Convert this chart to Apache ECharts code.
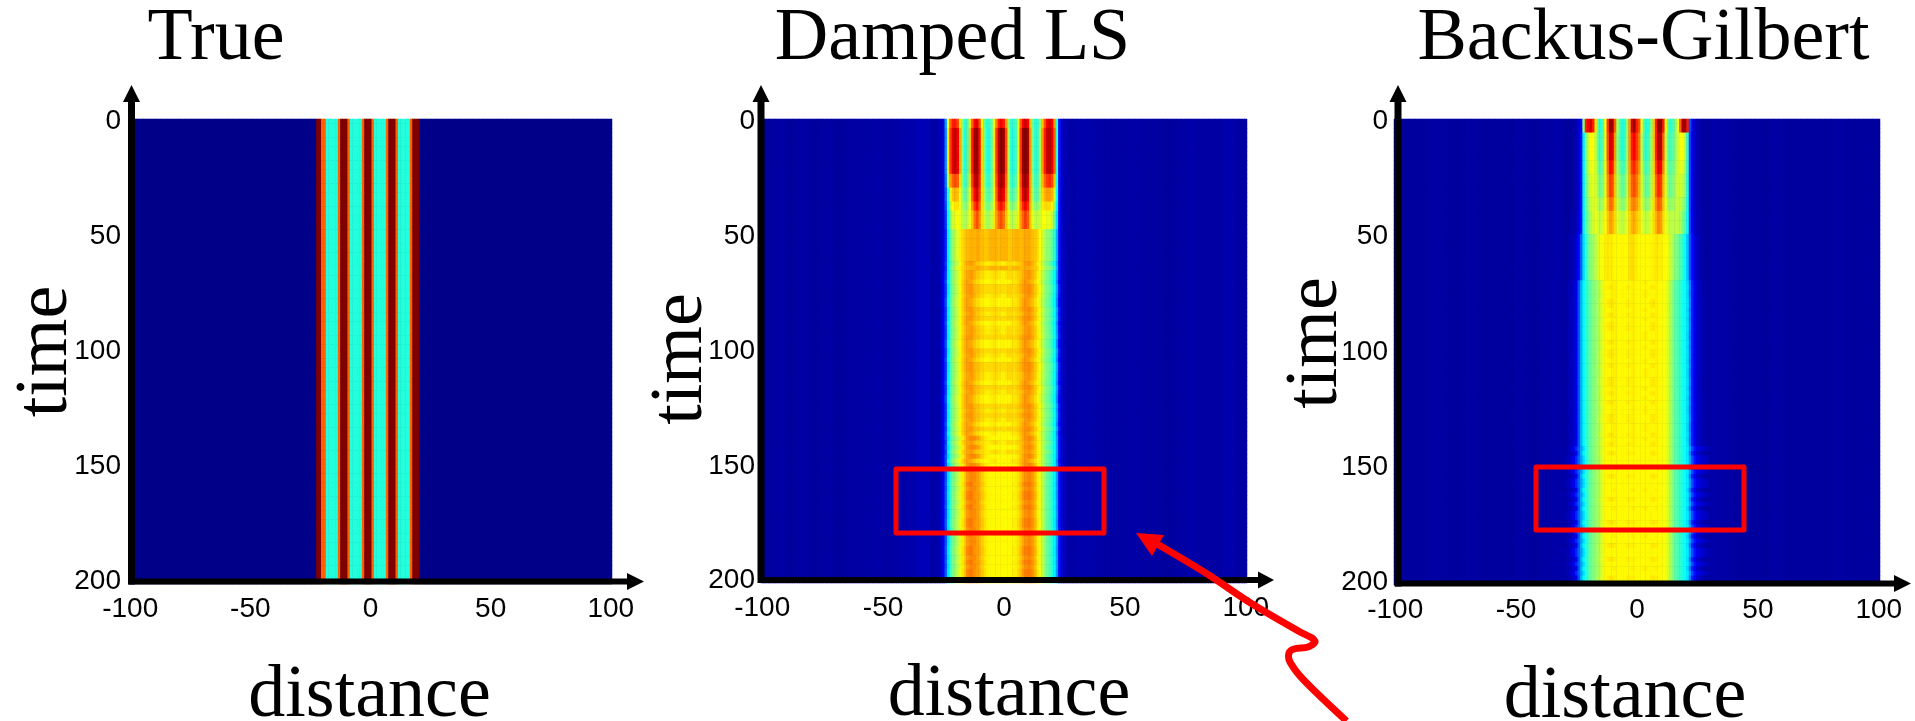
<!DOCTYPE html>
<html>
<head>
<meta charset="utf-8">
<style>html,body{margin:0;padding:0;background:#fff}#c{width:1915px;height:721px}</style>
<script src="https://cdn.jsdelivr.net/npm/echarts@6/dist/echarts.min.js"></script>
</head>
<body>
<div id="c"></div>
<script>
// ---------- tick labels and titles ----------
const panelTitles = ['True', 'Damped LS', 'Backus-Gilbert'];
const xTickLabels = [-100, -50, 0, 50, 100];
const yTickLabels = [0, 50, 100, 150, 200];
const xName = 'distance';
const yName = 'time';

// ---------- values: each profile covers distance -30..30 ----------
const trueProfile = [
 .01,.01,.01,.01,.01,.01,.01,.01,1,1,
 .78,.78,.41,.41,.41,.41,.41,.78,1,1,
 1,.78,.41,.41,.41,.41,.41,.78,1,1,
 1,.78,.41,.41,.41,.41,.41,.78,1,1,
 1,.78,.41,.41,.41,.41,.41,.78,1,1,
 1,.01,.01,.01,.01,.01,.01,.01,.01,.01,
 .01];

const dampedA = [
 .04,.04,.04,.05,.05,.09,.28,.62,.78,.85,
 .85,.8,.65,.5,.42,.45,.65,.78,.88,.9,
 .8,.62,.48,.42,.42,.48,.62,.75,.85,.88,
 .85,.72,.52,.42,.42,.45,.6,.78,.88,.92,
 .88,.68,.48,.42,.42,.52,.68,.8,.88,.92,
 .88,.72,.42,.14,.07,.05,.05,.04,.04,.04,
 .04];
const dampedB = [
 .04,.04,.04,.05,.05,.09,.26,.65,.82,.9,
 .93,.88,.7,.5,.41,.45,.68,.85,.97,.98,
 .86,.65,.5,.42,.4,.48,.65,.82,.94,1,
 .96,.8,.55,.42,.4,.45,.6,.82,.97,1,
 .96,.72,.5,.42,.42,.55,.72,.85,.93,.95,
 .9,.78,.42,.14,.07,.05,.05,.04,.04,.04,
 .04];
const dampedBC = [
 .04,.04,.04,.05,.05,.09,.24,.55,.72,.78,
 .8,.78,.65,.5,.43,.47,.66,.82,.93,.95,
 .84,.65,.52,.44,.42,.49,.65,.8,.92,.97,
 .92,.77,.55,.44,.42,.47,.61,.8,.94,.98,
 .92,.71,.52,.44,.44,.55,.69,.78,.82,.84,
 .8,.68,.4,.14,.07,.05,.05,.04,.04,.04,
 .04];
const dampedC = [
 .04,.04,.04,.05,.05,.09,.22,.42,.6,.68,
 .7,.68,.6,.52,.46,.5,.64,.78,.88,.92,
 .82,.65,.54,.47,.45,.5,.64,.78,.9,.93,
 .88,.74,.56,.46,.45,.5,.62,.78,.9,.95,
 .88,.7,.54,.46,.46,.55,.66,.7,.72,.72,
 .7,.58,.38,.14,.07,.05,.05,.04,.04,.04,
 .04];
const dampedCD = [
 .04,.04,.04,.05,.05,.09,.2,.4,.55,.63,
 .65,.65,.6,.54,.5,.53,.63,.73,.82,.86,
 .78,.65,.56,.5,.49,.53,.64,.75,.84,.86,
 .82,.71,.58,.51,.5,.54,.63,.75,.84,.88,
 .83,.69,.57,.51,.51,.56,.64,.66,.66,.66,
 .63,.53,.36,.14,.07,.05,.05,.04,.04,.04,
 .04];
const dampedD = [
 .04,.04,.04,.05,.05,.09,.18,.38,.5,.58,
 .6,.62,.6,.56,.54,.56,.62,.68,.76,.8,
 .74,.65,.58,.54,.54,.57,.65,.72,.78,.8,
 .76,.68,.6,.56,.55,.58,.64,.72,.78,.82,
 .78,.68,.6,.56,.56,.58,.62,.62,.6,.6,
 .56,.48,.34,.14,.07,.05,.05,.04,.04,.04,
 .04];
const dampedE = [
 .04,.04,.04,.05,.05,.09,.16,.36,.46,.52,
 .56,.6,.64,.66,.68,.69,.7,.7,.7,.71,
 .7,.69,.68,.68,.69,.7,.7,.7,.69,.7,
 .7,.7,.68,.68,.69,.7,.7,.69,.7,.71,
 .71,.7,.69,.68,.66,.62,.58,.55,.52,.5,
 .46,.42,.3,.14,.07,.05,.05,.04,.04,.04,
 .04];
const dampedF = [
 .04,.04,.04,.05,.05,.1,.18,.36,.44,.5,
 .54,.58,.62,.66,.69,.71,.72,.72,.7,.68,
 .67,.66,.65,.64,.64,.65,.66,.66,.65,.64,
 .64,.65,.66,.66,.65,.66,.67,.68,.7,.72,
 .73,.72,.7,.68,.64,.6,.56,.53,.5,.46,
 .42,.38,.28,.14,.07,.05,.05,.04,.04,.04,
 .04];
const dampedG = [
 .04,.04,.04,.05,.06,.11,.2,.37,.45,.51,
 .55,.59,.63,.67,.7,.72,.71,.7,.68,.66,
 .65,.64,.63,.63,.63,.64,.65,.64,.63,.63,
 .64,.63,.63,.64,.65,.65,.66,.69,.71,.73,
 .72,.7,.69,.66,.63,.59,.55,.52,.49,.45,
 .41,.37,.26,.13,.07,.05,.05,.04,.04,.04,
 .04];
const dampedH = [
 .04,.04,.04,.05,.05,.1,.18,.35,.44,.5,
 .54,.58,.63,.67,.7,.72,.73,.72,.7,.69,
 .68,.67,.66,.66,.66,.66,.67,.67,.66,.66,
 .66,.66,.67,.67,.66,.67,.68,.7,.72,.73,
 .74,.73,.71,.68,.65,.61,.57,.53,.5,.47,
 .43,.39,.29,.15,.07,.05,.05,.04,.04,.04,
 .04];
const dampedI = [
 .04,.04,.04,.05,.06,.1,.2,.34,.42,.48,
 .52,.56,.6,.64,.68,.72,.74,.74,.74,.72,
 .7,.67,.65,.64,.63,.63,.63,.63,.63,.63,
 .63,.63,.63,.63,.63,.64,.65,.68,.71,.73,
 .74,.74,.72,.69,.64,.6,.56,.52,.48,.44,
 .41,.37,.28,.14,.08,.05,.05,.04,.04,.04,
 .04];
const dampedJ = [
 .04,.04,.04,.05,.06,.11,.21,.35,.43,.49,
 .53,.57,.61,.65,.69,.74,.76,.75,.73,.72,
 .71,.68,.66,.64,.63,.63,.63,.63,.63,.63,
 .63,.62,.63,.63,.64,.64,.66,.69,.73,.75,
 .76,.75,.73,.7,.65,.61,.56,.52,.48,.44,
 .4,.36,.27,.14,.08,.05,.05,.04,.04,.04,
 .04];

const backusA = [
 .03,.03,.03,.03,.04,.05,.07,.12,.5,.85,
 .88,.92,.85,.65,.45,.41,.45,.62,.82,.98,
 .96,.78,.55,.44,.41,.42,.52,.72,.92,.98,
 .85,.8,.6,.45,.41,.42,.5,.68,.85,.98,
 .98,.85,.6,.46,.42,.44,.5,.62,.78,.96,
 .97,.85,.2,.1,.07,.05,.04,.04,.03,.03,
 .03];
const backusB = [
 .03,.03,.03,.03,.04,.05,.08,.14,.36,.5,
 .58,.62,.62,.56,.46,.43,.46,.6,.8,.92,
 .9,.72,.52,.44,.41,.43,.52,.72,.85,.88,
 .82,.76,.56,.44,.42,.44,.52,.68,.85,.95,
 .94,.78,.56,.46,.44,.46,.52,.58,.62,.62,
 .56,.42,.18,.1,.07,.05,.04,.04,.03,.03,
 .03];
const backusBC = [
 .03,.03,.03,.03,.04,.05,.08,.14,.36,.49,
 .56,.6,.61,.57,.49,.45,.48,.6,.77,.87,
 .85,.7,.54,.47,.44,.45,.53,.71,.82,.84,
 .79,.73,.57,.47,.44,.46,.53,.67,.82,.9,
 .88,.74,.57,.48,.46,.48,.53,.58,.6,.59,
 .54,.41,.18,.1,.07,.05,.04,.04,.03,.03,
 .03];
const backusC = [
 .03,.03,.03,.03,.04,.05,.08,.14,.36,.48,
 .54,.58,.6,.58,.52,.48,.5,.6,.74,.82,
 .8,.68,.56,.5,.47,.48,.55,.7,.78,.8,
 .76,.7,.58,.5,.47,.48,.54,.66,.78,.84,
 .82,.7,.58,.5,.48,.5,.54,.58,.58,.56,
 .52,.4,.18,.1,.07,.05,.04,.04,.03,.03,
 .03];
const backusCD = [
 .03,.03,.03,.03,.04,.05,.08,.14,.36,.47,
 .52,.56,.59,.59,.55,.52,.54,.61,.71,.77,
 .75,.67,.58,.53,.51,.52,.57,.68,.74,.75,
 .72,.68,.59,.53,.51,.52,.57,.66,.74,.79,
 .77,.68,.59,.53,.52,.53,.55,.57,.56,.53,
 .49,.39,.18,.1,.07,.05,.04,.04,.03,.03,
 .03];
const backusD = [
 .03,.03,.03,.04,.04,.06,.09,.14,.36,.46,
 .5,.54,.58,.6,.58,.56,.58,.62,.68,.72,
 .7,.66,.6,.57,.56,.57,.6,.66,.7,.71,
 .68,.66,.6,.57,.56,.57,.6,.66,.7,.74,
 .72,.66,.6,.57,.56,.56,.56,.56,.54,.5,
 .46,.38,.18,.11,.07,.05,.05,.04,.03,.03,
 .03];
const backusE = [
 .03,.03,.04,.05,.06,.08,.13,.22,.34,.42,
 .48,.5,.53,.56,.59,.61,.63,.64,.65,.64,
 .64,.63,.63,.63,.63,.63,.63,.65,.66,.65,
 .64,.63,.63,.63,.63,.63,.63,.64,.65,.64,
 .64,.63,.62,.6,.57,.54,.51,.48,.45,.42,
 .38,.32,.2,.13,.09,.07,.05,.04,.03,.03,
 .03];
const backusF = [
 .03,.04,.05,.06,.08,.1,.2,.3,.37,.42,
 .45,.47,.5,.52,.54,.57,.6,.63,.63,.63,
 .64,.64,.63,.63,.63,.63,.63,.63,.64,.64,
 .63,.63,.63,.64,.64,.63,.63,.63,.64,.63,
 .63,.62,.61,.58,.54,.5,.47,.44,.42,.4,
 .38,.34,.24,.15,.11,.08,.06,.05,.04,.04,
 .03];
const backusG = [
 .03,.04,.05,.06,.08,.11,.2,.3,.37,.42,
 .45,.47,.5,.52,.55,.58,.6,.63,.64,.65,
 .65,.64,.63,.63,.63,.63,.64,.64,.64,.64,
 .63,.63,.63,.63,.63,.63,.64,.65,.64,.63,
 .63,.62,.61,.58,.54,.5,.47,.44,.42,.4,
 .38,.35,.25,.15,.11,.08,.06,.05,.04,.04,
 .03];
const backusH = [
 .04,.05,.06,.08,.11,.16,.22,.28,.34,.4,
 .45,.47,.5,.52,.54,.57,.6,.63,.63,.63,
 .63,.63,.63,.63,.63,.63,.63,.63,.63,.63,
 .63,.63,.63,.63,.63,.63,.63,.63,.63,.63,
 .63,.62,.61,.58,.54,.5,.47,.44,.42,.4,
 .38,.36,.28,.2,.14,.11,.09,.08,.07,.06,
 .05];

// which profile each time row (0, 2, 4 ... 200) shows
const trueRows = new Array(101).fill(0);
const dampedRows = [
 0,0,
 1,1,1,1,1,1,1,1,1,1,
 10,10,10,2,2,2,
 11,11,3,3,3,
 3,4,4,4,4,4,4,
 4,5,4,5,5,6,7,7,5,6,6,7,5,7,6,5,5,7,6,6,7,5,6,7,7,5,5,6,7,5,6,6,7,5,7,5,6,7,6,8,5,8,5,8,6,
 8,9,8,8,9,8,9,9,8,9,8,8,9,9,8,9,8,8,9,9,8,9,8,9,9,8];
const backusRows = [
 0,0,0,
 1,1,1,1,1,1,8,8,
 8,2,2,2,2,2,9,
 9,9,3,3,3,3,3,
 4,4,4,4,4,4,4,4,4,4,
 5,6,5,5,6,6,5,6,5,6,6,5,5,6,5,6,6,5,6,5,5,6,6,5,6,5,6,5,5,6,6,5,5,6,5,6,
 7,6,7,7,5,7,6,7,7,5,7,6,7,5,7,7,6,7,7,5,7,6,7,7,6,7,5,7,6,7];

// background either side of the band, one value per 5 distance units
const trueSide = [.01,.01,.01,.01,.01,.01,.01,.01,.01,.01,.01,.01,.01,.01];
const dampedLeft = [.03,.035,.03,.035,.03,.035,.03,.035,.035,.04,.035,.04,.045,.055];
const dampedRight = [.045,.04,.035,.035,.04,.035,.035,.03,.035,.04,.035,.035,.045,.035];
const backusLeft = [.03,.03,.03,.035,.03,.03,.035,.03,.03,.03,.035,.03,.035,.04];
const backusRight = [.04,.035,.03,.03,.03,.035,.03,.03,.03,.03,.035,.03,.03,.03];

const panelProfiles = [
 [trueProfile],
 [dampedA,dampedB,dampedC,dampedD,dampedE,dampedF,dampedG,dampedH,dampedI,dampedJ,dampedBC,dampedCD],
 [backusA,backusB,backusC,backusD,backusE,backusF,backusG,backusH,backusBC,backusCD]
];
const panelRows = [trueRows, dampedRows, backusRows];
const panelSides = [[trueSide,trueSide],[dampedLeft,dampedRight],[backusLeft,backusRight]];

// ---------- layout ----------
const JET = ['#00007f','#0000ff','#0080ff','#00ffff','#80ff80','#ffff00','#ff8000','#ff0000','#7f0000'];
const layout = [
 {left:129, right:612,  top:119, h:465, title:211,    yGap:45, yMargin:8, xPad:[0,2,0,0], yPad:[0,0,0,0], bg:'#00008a',
  vx:131.5, vTop:100, hy:581.5, hRight:628, tipX:644},
 {left:761, right:1247, top:119, h:464, title:947.5,  yGap:42, yMargin:6, xPad:[0,0,0,10], yPad:[0,16,0,0], bg:'#00009c',
  vx:761,   vTop:100, hy:580,   hRight:1259, tipX:1274},
 {left:1394,right:1880, top:119, h:466, title:1638.5, yGap:40, yMargin:6, xPad:[0,24,0,0], yPad:[0,0,0,18], bg:'#00009c',
  vx:1398,  vTop:100, hy:583.5, hRight:1895, tipX:1911}
];
const boxes = [
 {x:896, y:469, width:208, height:64},
 {x:1536, y:467, width:208, height:63}
];
const pointerHead = [[1136,533],[1164,535],[1152,556]];
const pointerPath = [[1152,541],[1205.7,573],[1250.6,603],[1299.6,631.7],[1312,638],[1315,642],[1308,647],[1294,649],[1289,653],[1290,662],[1303.7,680],[1346.5,721]];

// ---------- build ----------
const xCats = [], yCats = [];
for (let c = -100; c <= 100; c++) xCats.push(String(c));
for (let t = 0; t <= 200; t += 2) yCats.push(String(t));

function cells(p) {
  const out = [], prof = panelProfiles[p], rows = panelRows[p], side = panelSides[p];
  rows.forEach((r, ri) => {
    xCats.forEach((_, xi) => {
      const c = xi - 100;
      let v;
      if (c < -30) v = side[0][Math.min(13, Math.floor((c + 100) / 5))];
      else if (c > 30) v = side[1][Math.min(13, Math.floor((c - 31) / 5))];
      else v = prof[r][c + 30];
      out.push([xi, ri, v]);
    });
  });
  return out;
}

const sans = '"Liberation Sans", Arial, sans-serif';
const serif = '"Liberation Serif", "Times New Roman", serif';
const black = {fill:'#000'};
const graphics = [];
layout.forEach(l => {
  graphics.push({type:'line', z:100, shape:{x1:l.vx,y1:l.hy+3,x2:l.vx,y2:l.vTop}, style:{stroke:'#000',lineWidth:7}});
  graphics.push({type:'polygon', z:100, shape:{points:[[l.vx,85],[l.vx-8.5,102],[l.vx+8.5,102]]}, style:black});
  graphics.push({type:'line', z:100, shape:{x1:l.vx-3,y1:l.hy,x2:l.hRight,y2:l.hy}, style:{stroke:'#000',lineWidth:6}});
  graphics.push({type:'polygon', z:100, shape:{points:[[l.tipX,l.hy],[l.hRight-1,l.hy-8.5],[l.hRight-1,l.hy+8.5]]}, style:black});
});
boxes.forEach(b => graphics.push({type:'rect', z:110, shape:b, style:{fill:'none',stroke:'#f00',lineWidth:5,lineJoin:'round'}}));
graphics.push({type:'polyline', z:120, shape:{points:pointerPath, smooth:0.3}, style:{fill:'none',stroke:'#f00',lineWidth:7,lineCap:'butt',lineJoin:'round'}});
graphics.push({type:'polygon', z:120, shape:{points:pointerHead}, style:{fill:'#f00'}});

const option = {
  animation:false,
  backgroundColor:'#fff',
  title: layout.map((l,i) => ({
    text:panelTitles[i], left:l.title, top:-2, textAlign:'center',
    textStyle:{fontFamily:serif,fontSize:74,fontWeight:'normal',color:'#000'}
  })),
  visualMap:{show:false, type:'continuous', min:0, max:1, dimension:2, seriesIndex:[0,1,2], inRange:{color:JET}},
  grid: layout.map(l => ({left:l.left, width:l.right-l.left, top:l.top, height:l.h, containLabel:false, outerBoundsMode:'none',
    show:true, backgroundColor:l.bg, borderWidth:0})),
  xAxis: layout.map((l,i) => ({
    type:'category', gridIndex:i, data:xCats, position:'bottom',
    name:xName, nameLocation:'middle', nameGap:76, nameMoveOverlap:false,
    nameTextStyle:{fontFamily:serif,fontSize:74,color:'#000',padding:l.xPad},
    axisLine:{show:false}, axisTick:{show:false}, splitLine:{show:false},
    axisLabel:{show:true, margin:11, fontFamily:sans, fontSize:28, color:'#000',
      interval:(idx,val)=>xTickLabels.includes(Number(val))}
  })),
  yAxis: layout.map((l,i) => ({
    type:'category', gridIndex:i, data:yCats, inverse:true,
    name:yName, nameLocation:'middle', nameGap:l.yGap, nameRotate:90, nameMoveOverlap:false,
    nameTextStyle:{fontFamily:serif,fontSize:74,color:'#000',padding:l.yPad},
    axisLine:{show:false}, axisTick:{show:false}, splitLine:{show:false},
    axisLabel:{show:true, margin:l.yMargin, fontFamily:sans, fontSize:28, color:'#000',
      interval:(idx,val)=>yTickLabels.includes(Number(val))}
  })),
  series: layout.map((l,i) => ({
    type:'heatmap', xAxisIndex:i, yAxisIndex:i, data:cells(i), progressive:0, silent:true,
    itemStyle:{borderWidth:0}, emphasis:{disabled:true}
  })),
  graphic:{elements:graphics}
};
const chart = echarts.init(document.getElementById('c'), null, {renderer:'canvas'});
chart.setOption(option);
</script>
</body>
</html>
